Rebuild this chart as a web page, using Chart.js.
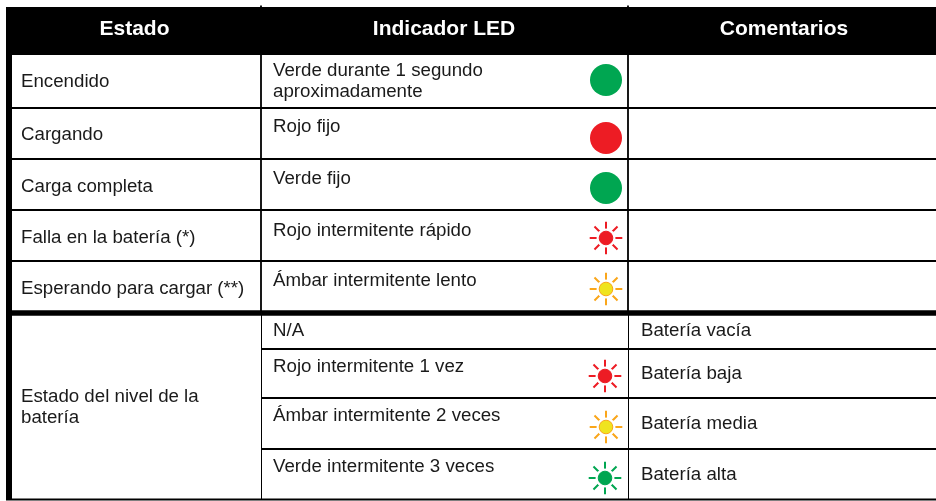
<!DOCTYPE html>
<html lang="es">
<head>
<meta charset="utf-8">
<title>Indicador LED</title>
<script src="https://cdn.jsdelivr.net/npm/chart.js@4/dist/chart.umd.min.js"></script>
<style>
  html, body { margin: 0; padding: 0; background: #fff; }
  canvas { display: block; }
</style>
</head>
<body>
<canvas id="tabla" width="936" height="501"></canvas>
<script>
// Table content
const headers = ['Estado', 'Indicador LED', 'Comentarios']
const estados = ['Encendido', 'Cargando', 'Carga completa', 'Falla en la batería (*)', 'Esperando para cargar (**)', 'Estado del nivel de la', 'batería']
const indicadores = ['Verde durante 1 segundo', 'aproximadamente', 'Rojo fijo', 'Verde fijo', 'Rojo intermitente rápido', 'Ámbar intermitente lento', 'N/A', 'Rojo intermitente 1 vez', 'Ámbar intermitente 2 veces', 'Verde intermitente 3 veces']
const comentarios = ['Batería vacía', 'Batería baja', 'Batería media', 'Batería alta']

// LEDs, one per row that has one
const ledY = [80, 138, 188, 238, 289, 376, 427, 478]
const ledX = [606, 606, 606, 606, 606, 605, 606, 605]
const ledFill = ['#00a651', '#ed1c24', '#00a651', '#ed1c24', '#efe41f', '#ed1c24', '#efe41f', '#00a651']
const ledRay = [null, null, null, '#ed1c24', '#faa61a', '#ed1c24', '#faa61a', '#00a651']

// Layout of the grid, in page pixels (text y is the baseline)
const headerX = [134.5, 444, 784]
const headerY = 35
const estadoX = 21
const estadoY = [87, 140, 192, 243, 293.5, 402, 423]
const indicadorX = 273
const indicadorY = [75.5, 97, 132, 183.5, 235.5, 285.5, 336, 372, 421, 471.5]
const comentarioX = 641
const comentarioY = [336, 379, 429, 480]
const fullRows = [108, 159, 210, 261]
const lowerRows = [349, 398, 449]

function rule(x1, y1, x2, y2, width) {
  return {
    type: 'scatter',
    showLine: true,
    pointRadius: 0,
    borderColor: '#000',
    borderWidth: width,
    order: 5,
    data: [{ x: x1, y: y1 }, { x: x2, y: y2 }]
  }
}

const flashing = ledY.map((y, i) => i).filter(i => ledRay[i])
const solid = ledY.map((y, i) => i).filter(i => !ledRay[i])

const tableText = {
  id: 'tableText',
  afterDatasetsDraw(chart) {
    const { ctx, scales: { x, y } } = chart
    ctx.save()
    ctx.textBaseline = 'alphabetic'
    ctx.textAlign = 'center'
    ctx.fillStyle = '#fff'
    ctx.font = 'bold 21px "Liberation Sans"'
    headers.forEach((t, i) => ctx.fillText(t, x.getPixelForValue(headerX[i]), y.getPixelForValue(headerY)))
    ctx.textAlign = 'left'
    ctx.fillStyle = '#1a1a1a'
    ctx.font = '18.7px "Liberation Sans"'
    estados.forEach((t, i) => ctx.fillText(t, x.getPixelForValue(estadoX), y.getPixelForValue(estadoY[i])))
    indicadores.forEach((t, i) => ctx.fillText(t, x.getPixelForValue(indicadorX), y.getPixelForValue(indicadorY[i])))
    comentarios.forEach((t, i) => ctx.fillText(t, x.getPixelForValue(comentarioX), y.getPixelForValue(comentarioY[i])))
    ctx.restore()
  }
}

new Chart(document.getElementById('tabla'), {
  type: 'scatter',
  plugins: [tableText],
  data: {
    datasets: [
      // LED core
      {
        order: 1,
        data: flashing.map(i => ({ x: ledX[i], y: ledY[i] })),
        pointRadius: 6.8,
        pointBackgroundColor: flashing.map(i => ledFill[i]),
        pointBorderColor: flashing.map(i => ledRay[i]),
        pointBorderWidth: 1
      },
      // white ring between the core and the rays
      {
        order: 2,
        data: flashing.map(i => ({ x: ledX[i], y: ledY[i] })),
        pointRadius: 9.5,
        pointBackgroundColor: '#fff',
        pointBorderWidth: 0
      },
      // rays
      {
        order: 3,
        data: flashing.map(i => ({ x: ledX[i], y: ledY[i] })),
        pointStyle: 'star',
        pointRadius: 16.3,
        pointBorderColor: flashing.map(i => ledRay[i]),
        pointBorderWidth: 2
      },
      // steady LEDs
      {
        order: 1,
        data: solid.map(i => ({ x: ledX[i], y: ledY[i] })),
        pointRadius: 16,
        pointBackgroundColor: solid.map(i => ledFill[i]),
        pointBorderWidth: 0
      },
      rule(6, 31, 936, 31, 48),
      rule(9, 7, 9, 500, 6),
      rule(261, 5.5, 261, 313, 1.8),
      rule(628, 5.5, 628, 313, 1.8),
      rule(261.5, 313, 261.5, 500, 1),
      rule(628.5, 313, 628.5, 500, 1),
      rule(6, 313, 936, 313, 5.5),
      rule(6, 499.5, 936, 499.5, 1.8),
      ...fullRows.map(y => rule(12, y, 936, y, 1.8)),
      ...lowerRows.map(y => rule(261, y, 936, y, 1.8))
    ]
  },
  options: {
    responsive: false,
    animation: false,
    events: [],
    layout: { padding: 0, autoPadding: false },
    plugins: { legend: { display: false }, tooltip: { enabled: false } },
    scales: {
      x: { type: 'linear', display: false, min: 0, max: 936 },
      y: { type: 'linear', display: false, min: 0, max: 501, reverse: true }
    }
  }
})
</script>
</body>
</html>
